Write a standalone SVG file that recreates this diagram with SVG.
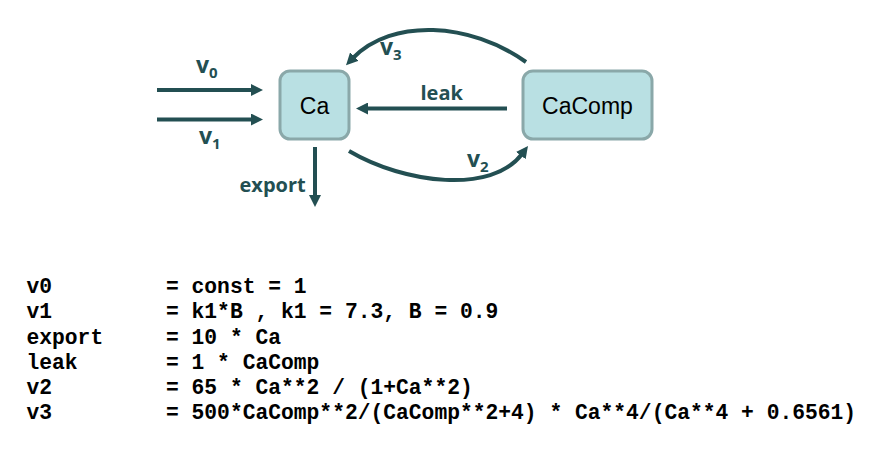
<svg xmlns="http://www.w3.org/2000/svg" width="882" height="452" viewBox="0 0 882 452">
<style>
.node rect{fill:#b9e0e3;stroke:#8aa8a9;stroke-width:3}
.node text{font-family:"Liberation Sans",Arial,sans-serif;font-size:23px;fill:#000;text-anchor:middle}
.conn path{fill:none;stroke:#234f52;stroke-width:4}
.lbl{font-family:"Open Sans","DejaVu Sans",sans-serif;font-weight:bold;font-size:20px;fill:#234f52}
.v{font-size:23px}
.sub{font-size:15px}
.code{font-family:"Liberation Mono","Courier New",monospace;font-weight:bold;font-size:21.3px;fill:#000}
</style>
<defs>
<marker id="ah" markerUnits="userSpaceOnUse" markerWidth="12" markerHeight="12" refX="2" refY="6" orient="auto">
<path d="M0,0 L12,6 L0,12 z" fill="#234f52"/>
</marker>
</defs>
<rect width="882" height="452" fill="#fff"/>
<g id="connectors" class="conn">
<path id="c-v0" d="M157,90 H253" marker-end="url(#ah)"/>
<path id="c-v1" d="M157,119.5 H253" marker-end="url(#ah)"/>
<path id="c-leak" d="M507,108.5 H366" marker-end="url(#ah)"/>
<path id="c-export" d="M315,147 V197" marker-end="url(#ah)"/>
<path id="c-v3" d="M526,62 C470,22 392,18 353,58" marker-end="url(#ah)"/>
<path id="c-v2" d="M349,151 C405,184 492,194 522,154" marker-end="url(#ah)"/>
</g>
<g id="labels">
<text class="lbl v" x="196" y="73">v<tspan class="sub" dy="5">0</tspan></text>
<text class="lbl v" x="199" y="144">v<tspan class="sub" dy="5">1</tspan></text>
<text class="lbl v" x="380" y="55">v<tspan class="sub" dy="5">3</tspan></text>
<text class="lbl v" x="467" y="167">v<tspan class="sub" dy="5">2</tspan></text>
<text class="lbl" x="420.5" y="99.5">leak</text>
<text class="lbl" x="239.5" y="191.5">export</text>
</g>
<g id="node-Ca" class="node">
<rect x="280" y="71" width="69" height="68" rx="10"/>
<text x="314.5" y="114">Ca</text>
</g>
<g id="node-CaComp" class="node">
<rect x="523" y="71" width="129" height="68" rx="10"/>
<text x="587.5" y="114">CaComp</text>
</g>
<g id="equations" class="code">
<text x="26.5" y="293">v0</text>
<text x="166" y="293">= const = 1</text>
<text x="26.5" y="318">v1</text>
<text x="166" y="318">= k1*B , k1 = 7.3, B = 0.9</text>
<text x="26.5" y="343.5">export</text>
<text x="166" y="343.5">= 10 * Ca</text>
<text x="26.5" y="369">leak</text>
<text x="166" y="369">= 1 * CaComp</text>
<text x="26.5" y="394">v2</text>
<text x="166" y="394">= 65 * Ca**2 / (1+Ca**2)</text>
<text x="26.5" y="419">v3</text>
<text x="166" y="419">= 500*CaComp**2/(CaComp**2+4) * Ca**4/(Ca**4 + 0.6561)</text>
</g>
</svg>
